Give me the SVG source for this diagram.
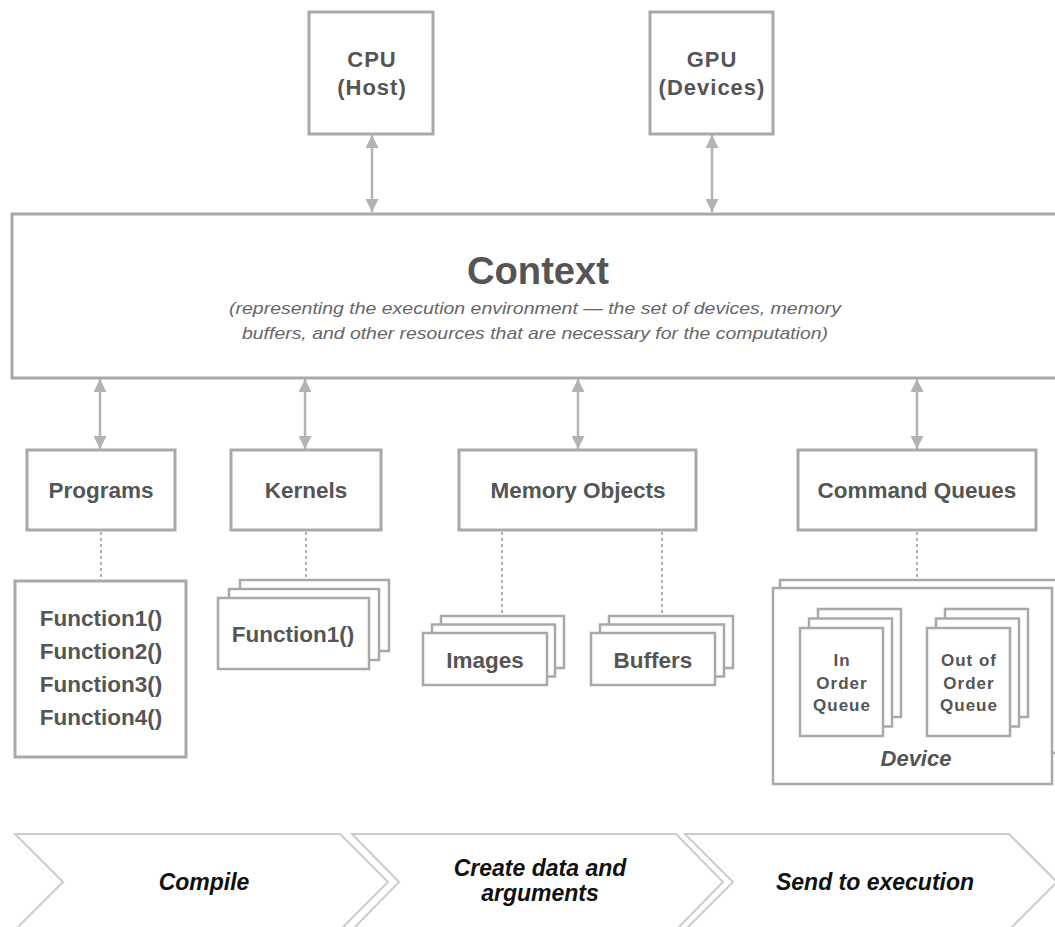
<svg xmlns="http://www.w3.org/2000/svg" width="1055" height="927" viewBox="0 0 1055 927">
  <style>
    .box { fill: #ffffff; stroke: #a9a9a9; stroke-width: 3; }
    .sheet { fill: #ffffff; stroke: #a9a9a9; stroke-width: 2.5; }
    .lbl { font-family: "Liberation Sans", Arial, sans-serif; font-weight: bold; fill: #555555; text-anchor: middle; }
    .big { font-size: 22.5px; }
    .mid { font-size: 22px; letter-spacing: 1px; }
    .small { font-size: 17px; letter-spacing: 1px; }
    .note { font-family: "Liberation Sans", Arial, sans-serif; font-style: italic; font-size: 16.5px; fill: #666666; text-anchor: middle; }
    .link { stroke: #b3b3b3; stroke-width: 2.5; fill: none; }
    .dots { stroke: #b0b0b0; stroke-width: 2; stroke-dasharray: 3 3; fill: none; }
    .chev { fill: #ffffff; stroke: #cccccc; stroke-width: 2; }
    .step { font-family: "Liberation Sans", Arial, sans-serif; font-weight: bold; font-style: italic; font-size: 23px; fill: #111111; text-anchor: middle; }
  </style>
  <defs>
    <marker id="head" viewBox="0 0 13 13" refX="13" refY="6.5" markerWidth="13" markerHeight="13" markerUnits="userSpaceOnUse" orient="auto-start-reverse">
      <path d="M0,0 L13,6.5 L0,13 z" fill="#b3b3b3"/>
    </marker>
  </defs>
  <rect width="1055" height="927" fill="#ffffff"/>

  <!-- connectors: two-way links to the context, dotted links to the contents -->
  <g id="connectors">
    <line class="link" x1="372" y1="135" x2="372" y2="212" marker-start="url(#head)" marker-end="url(#head)"/>
    <line class="link" x1="712" y1="135" x2="712" y2="212" marker-start="url(#head)" marker-end="url(#head)"/>
    <line class="link" x1="100" y1="379" x2="100" y2="449" marker-start="url(#head)" marker-end="url(#head)"/>
    <line class="link" x1="305" y1="379" x2="305" y2="449" marker-start="url(#head)" marker-end="url(#head)"/>
    <line class="link" x1="578" y1="379" x2="578" y2="449" marker-start="url(#head)" marker-end="url(#head)"/>
    <line class="link" x1="917" y1="379" x2="917" y2="449" marker-start="url(#head)" marker-end="url(#head)"/>
    <line class="dots" x1="101" y1="532" x2="101" y2="580"/>
    <line class="dots" x1="306" y1="532" x2="306" y2="579"/>
    <line class="dots" x1="502" y1="532" x2="502" y2="615"/>
    <line class="dots" x1="662" y1="532" x2="662" y2="615"/>
    <line class="dots" x1="917" y1="532" x2="917" y2="579"/>
  </g>

  <g id="cpu">
    <rect class="box" x="309" y="12" width="124" height="122"/>
    <text class="lbl mid" x="372" y="67">CPU</text>
    <text class="lbl mid" x="372" y="95">(Host)</text>
  </g>

  <g id="gpu">
    <rect class="box" x="650" y="12" width="123" height="122"/>
    <text class="lbl mid" x="712" y="67">GPU</text>
    <text class="lbl mid" x="712" y="95">(Devices)</text>
  </g>

  <g id="context">
    <rect class="box" x="12" y="214" width="1060" height="164"/>
    <text class="lbl" x="538" y="284" font-size="39" textLength="142" lengthAdjust="spacingAndGlyphs">Context</text>
    <text class="note" x="535" y="314" textLength="612" lengthAdjust="spacingAndGlyphs">(representing the execution environment — the set of devices, memory</text>
    <text class="note" x="535" y="339" textLength="586" lengthAdjust="spacingAndGlyphs">buffers, and other resources that are necessary for the computation)</text>
  </g>

  <g id="programs">
    <rect class="box" x="27" y="450" width="148" height="80"/>
    <text class="lbl big" x="101" y="498">Programs</text>
  </g>

  <g id="kernels">
    <rect class="box" x="231" y="450" width="150" height="80"/>
    <text class="lbl big" x="306" y="498">Kernels</text>
  </g>

  <g id="memory-objects">
    <rect class="box" x="459" y="450" width="237" height="80"/>
    <text class="lbl big" x="578" y="498">Memory Objects</text>
  </g>

  <g id="command-queues">
    <rect class="box" x="798" y="450" width="238" height="80"/>
    <text class="lbl big" x="917" y="498">Command Queues</text>
  </g>

  <g id="program-functions">
    <rect class="box" x="15" y="581" width="171" height="176"/>
    <text class="lbl big" x="101" y="626">Function1()</text>
    <text class="lbl big" x="101" y="659">Function2()</text>
    <text class="lbl big" x="101" y="692">Function3()</text>
    <text class="lbl big" x="101" y="725">Function4()</text>
  </g>

  <g id="kernel-functions">
    <rect class="sheet" x="240" y="580" width="149" height="71"/>
    <rect class="sheet" x="229" y="589" width="150" height="71"/>
    <rect class="sheet" x="218" y="598" width="151" height="71"/>
    <text class="lbl big" x="293" y="642">Function1()</text>
  </g>

  <g id="images">
    <rect class="sheet" x="441" y="616" width="123" height="52"/>
    <rect class="sheet" x="432" y="624.5" width="123" height="52"/>
    <rect class="sheet" x="423" y="633" width="124" height="52"/>
    <text class="lbl big" x="485" y="668">Images</text>
  </g>

  <g id="buffers">
    <rect class="sheet" x="609" y="616" width="124" height="52"/>
    <rect class="sheet" x="600" y="624.5" width="124" height="52"/>
    <rect class="sheet" x="591" y="633" width="124" height="52"/>
    <text class="lbl big" x="653" y="668">Buffers</text>
  </g>

  <g id="device">
    <rect class="sheet" x="780" y="580" width="285" height="173"/>
    <rect class="sheet" x="773" y="588" width="279" height="196"/>
    <text class="lbl" x="916" y="766" font-size="22" font-style="italic">Device</text>
  </g>

  <g id="in-order-queue">
    <rect class="sheet" x="818" y="609" width="83" height="108"/>
    <rect class="sheet" x="809" y="618.5" width="83" height="108"/>
    <rect class="sheet" x="800" y="628" width="83" height="108"/>
    <text class="lbl small" x="842" y="666">In</text>
    <text class="lbl small" x="842" y="689">Order</text>
    <text class="lbl small" x="842" y="711">Queue</text>
  </g>

  <g id="out-of-order-queue">
    <rect class="sheet" x="945" y="609" width="83" height="108"/>
    <rect class="sheet" x="936" y="618.5" width="83" height="108"/>
    <rect class="sheet" x="927" y="628" width="83" height="108"/>
    <text class="lbl small" x="969" y="666">Out of</text>
    <text class="lbl small" x="969" y="689">Order</text>
    <text class="lbl small" x="969" y="711">Queue</text>
  </g>

  <!-- process steps along the bottom -->
  <g id="step-compile">
    <polygon class="chev" points="15,834 340,834 388,882 340,930 15,930 63,882"/>
    <text class="step" x="204" y="890">Compile</text>
  </g>

  <g id="step-create">
    <polygon class="chev" points="352,834 676,834 723,882 676,930 352,930 399,882"/>
    <text class="step" x="540" y="876">Create data and</text>
    <text class="step" x="540" y="901">arguments</text>
  </g>

  <g id="step-send">
    <polygon class="chev" points="685,834 1009,834 1057,882 1009,930 685,930 733,882"/>
    <text class="step" x="875" y="890">Send to execution</text>
  </g>
</svg>
